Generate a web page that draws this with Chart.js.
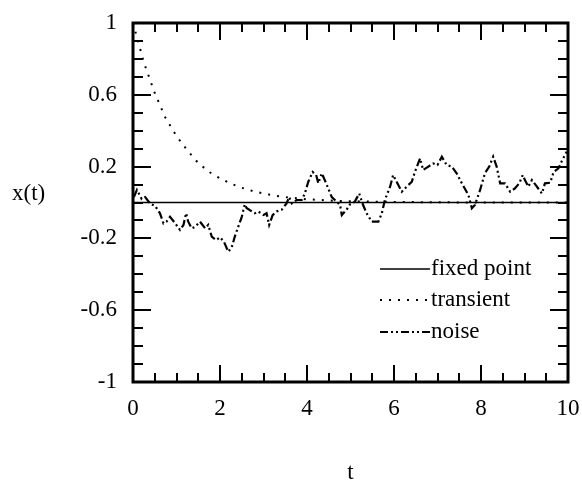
<!DOCTYPE html>
<html>
<head>
<meta charset="utf-8">
<script src="https://cdn.jsdelivr.net/npm/chart.js@4/dist/chart.umd.min.js"></script>
<style>
  html, body { margin: 0; padding: 0; background: #fff; }
  #wrap { width: 582px; height: 481px; }
</style>
</head>
<body>
<div id="wrap"><canvas id="xtChart"></canvas></div>
<script>
// fixed point of the system
const fixedT = [0, 10];
const fixedX = [0, 0];

// transient decay towards the fixed point
const transT = [0, 0.25, 0.5, 0.75, 1, 1.25, 1.5, 1.75, 2, 2.25, 2.5, 2.75, 3, 3.25, 3.5, 3.75, 4, 4.5, 5, 6, 7, 8, 9, 10];
const transX = [1.0, 0.78, 0.61, 0.47, 0.37, 0.29, 0.22, 0.17, 0.135, 0.105, 0.082, 0.064, 0.05, 0.039, 0.03, 0.024, 0.018, 0.011, 0.007, 0.003, 0.001, 0, 0, 0];

// noisy trajectory
const noiseT = [0.02, 0.09, 0.2, 0.28, 0.39, 0.51, 0.62, 0.7, 0.77, 0.85, 0.97, 1.08, 1.16, 1.22, 1.27, 1.35, 1.43, 1.54,
  1.66, 1.73, 1.81, 1.91, 2.0, 2.09, 2.19, 2.27, 2.34, 2.42, 2.5, 2.57, 2.61, 2.73, 2.8, 2.88, 3.0, 3.07, 3.13, 3.21,
  3.3, 3.42, 3.53, 3.59, 3.65, 3.76, 3.88, 3.95, 4.03, 4.13, 4.21, 4.26, 4.34, 4.44, 4.57, 4.68, 4.76, 4.8, 4.91, 4.99,
  5.1, 5.2, 5.29, 5.37, 5.49, 5.64, 5.72, 5.79, 5.91, 5.98, 6.06, 6.18, 6.29, 6.41, 6.48, 6.6, 6.67, 6.79, 6.9, 7.0,
  7.1, 7.21, 7.33, 7.44, 7.56, 7.71, 7.79, 7.86, 7.98, 8.09, 8.19, 8.28, 8.36, 8.44, 8.55, 8.67, 8.78, 8.88, 8.96,
  9.01, 9.09, 9.17, 9.26, 9.4, 9.47, 9.59, 9.67, 9.78, 9.85, 9.97];
const noiseX = [0.03, 0.07, 0.02, 0.03, -0.005, -0.02, -0.06, -0.116, -0.107, -0.08, -0.116, -0.153, -0.125, -0.06, -0.107, -0.144, -0.135, -0.107,
  -0.144, -0.125, -0.19, -0.209, -0.194, -0.218, -0.274, -0.25, -0.19, -0.135, -0.08, -0.01, -0.03, -0.05, -0.06, -0.05, -0.07, -0.06, -0.125, -0.07,
  -0.05, -0.04, -0.005, 0.03, -0.005, 0.014, 0.014, 0.05, 0.116, 0.17, 0.153, 0.107, 0.163, 0.107, 0.03, 0.005, -0.014, -0.07, -0.04, -0.01,
  0.005, 0.05, -0.014, -0.06, -0.107, -0.107, -0.06, 0.014, 0.088, 0.153, 0.116, 0.06, 0.088, 0.116, 0.17, 0.246, 0.181, 0.2, 0.218, 0.209,
  0.255, 0.209, 0.2, 0.163, 0.107, 0.042, -0.032, -0.014, 0.07, 0.163, 0.2, 0.255, 0.2, 0.107, 0.107, 0.06, 0.079, 0.107, 0.153,
  0.125, 0.088, 0.125, 0.097, 0.05, 0.107, 0.11, 0.17, 0.19, 0.227, 0.283];

const seriesLabels = ['fixed point', 'transient', 'noise'];
const xTicks = [0, 2, 4, 6, 8, 10];
const yTicks = [-1, -0.6, -0.2, 0.2, 0.6, 1];

const pts = (ts, xs) => ts.map((t, i) => ({ x: t, y: xs[i] }));
const serif = '"Liberation Serif", "DejaVu Serif", serif';
const fontSize = 23;

// frame, inward ticks on all four sides, y title and legend
const framePlugin = {
  id: 'frame',
  afterDatasetsDraw(chart) {
    const { ctx, chartArea: a, scales } = chart;
    const sx = scales.x, sy = scales.y;
    ctx.save();
    ctx.strokeStyle = '#000';
    ctx.lineWidth = 2;
    ctx.beginPath();
    for (let v = 0.5; v < 10; v += 0.5) {
      const px = Math.round(sx.getPixelForValue(v));
      const len = Math.abs(v % 2) < 1e-6 ? 17 : 9;
      ctx.moveTo(px, a.bottom); ctx.lineTo(px, a.bottom - len);
      ctx.moveTo(px, a.top); ctx.lineTo(px, a.top + len);
    }
    for (let i = 1; i < 20; i++) {
      const v = -1 + i * 0.1;
      const py = Math.round(sy.getPixelForValue(v));
      const major = yTicks.some(t => Math.abs(t - v) < 1e-6);
      const len = major ? 18 : 10;
      ctx.moveTo(a.left, py); ctx.lineTo(a.left + len, py);
      ctx.moveTo(a.right, py); ctx.lineTo(a.right - len, py);
    }
    ctx.stroke();
    ctx.lineWidth = 3;
    ctx.strokeRect(a.left, a.top, a.right - a.left, a.bottom - a.top);

    // y title, horizontal
    ctx.fillStyle = '#000';
    ctx.font = fontSize + 'px ' + serif;
    ctx.textAlign = 'left';
    ctx.textBaseline = 'middle';
    ctx.fillText('x(t)', 12, 194);

    // legend
    const rows = [269, 300, 332];
    chart.data.datasets.forEach((ds, i) => {
      const y = rows[i];
      ctx.lineWidth = ds.borderWidth;
      ctx.setLineDash(ds.borderDash || []);
      ctx.beginPath();
      ctx.moveTo(380, y); ctx.lineTo(430, y);
      ctx.stroke();
      ctx.setLineDash([]);
      ctx.fillText(ds.label, 431, y);
    });
    ctx.restore();
  }
};

new Chart(document.getElementById('xtChart'), {
  type: 'line',
  data: {
    datasets: [{
      label: seriesLabels[0],
      data: pts(fixedT, fixedX),
      borderColor: '#000',
      borderWidth: 1.5,
      pointRadius: 0
    }, {
      label: seriesLabels[1],
      data: pts(transT, transX),
      borderColor: '#000',
      borderWidth: 2,
      borderDash: [2, 7],
      pointRadius: 0
    }, {
      label: seriesLabels[2],
      data: pts(noiseT, noiseX),
      borderColor: '#000',
      borderWidth: 2.2,
      borderDash: [8, 3, 2, 3, 2, 3],
      pointRadius: 0
    }]
  },
  options: {
    responsive: true,
    maintainAspectRatio: false,
    animation: false,
    layout: { padding: { top: 23, right: 14, left: 0, bottom: 0 } },
    plugins: {
      legend: { display: false },
      tooltip: { enabled: false }
    },
    scales: {
      x: {
        type: 'linear',
        min: 0,
        max: 10,
        grid: { display: false, drawTicks: false },
        border: { display: false },
        afterBuildTicks: (s) => { s.ticks = xTicks.map(v => ({ value: v })); },
        afterFit: (s) => { s.height = 99; s.paddingLeft = 0; s.paddingRight = 0; },
        ticks: {
          padding: 13,
          color: '#000',
          font: { family: serif, size: fontSize },
          maxRotation: 0,
          callback: (v) => String(v)
        },
        title: {
          display: true,
          text: 't',
          color: '#000',
          padding: { top: 0, bottom: -3 },
          font: { family: serif, size: fontSize, lineHeight: 1 }
        }
      },
      y: {
        min: -1,
        max: 1,
        grid: { display: false, drawTicks: false },
        border: { display: false },
        afterBuildTicks: (s) => { s.ticks = yTicks.map(v => ({ value: v })); },
        afterFit: (s) => { s.width = 133; s.paddingTop = 0; s.paddingBottom = 0; },
        ticks: {
          padding: 16,
          color: '#000',
          font: { family: serif, size: fontSize },
          callback: (v) => String(+v.toFixed(1))
        }
      }
    }
  },
  plugins: [framePlugin]
});
</script>
</body>
</html>
